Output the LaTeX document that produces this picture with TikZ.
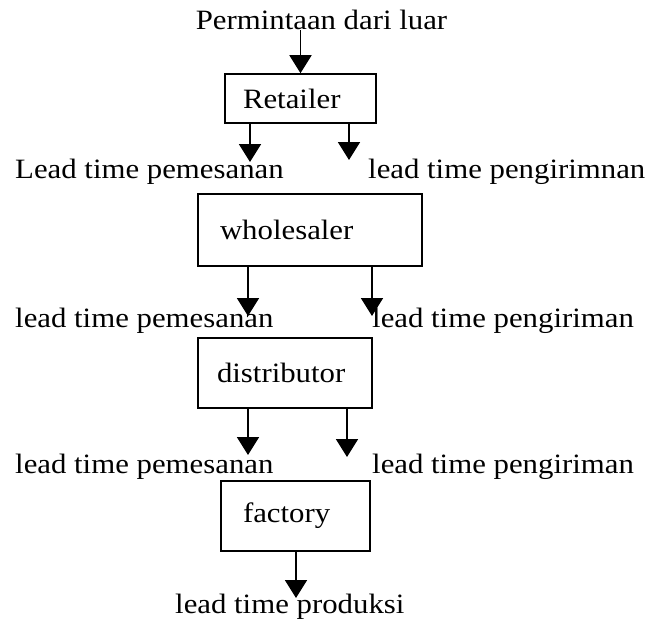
\documentclass[tikz,border=0pt]{standalone}
\usepackage{fontspec}
\setmainfont[FakeStretch=1.1]{Liberation Serif}
\usetikzlibrary{arrows.meta}
\begin{document}
\begin{tikzpicture}[x=1pt,y=-1pt,
  font=\fontsize{28}{32}\selectfont,
  box/.style={draw, line width=1.6pt, inner ysep=0pt, align=left},
  lbl/.style={inner sep=0pt, anchor=base west},
  arr/.style={line width=1.8pt, -{Triangle[width=22pt,length=18pt]}}]
\useasboundingbox (0,0) rectangle (651,629);

% incoming demand
\node[inner sep=0pt, anchor=base] (dem) at (321.5,30) {Permintaan dari luar};

% retailer
\node[box, minimum width=151pt, minimum height=49pt, text width=115pt, inner xsep=18pt] (ret) at (300.5,98.5) {Retailer};
\coordinate (r1) at (250,162);
\coordinate (r2) at (349,160);
\node[lbl] (l1a) at (15,178) {Lead time pemesanan};
\node[lbl] (l1b) at (368,178) {lead time pengirimnan};

% wholesaler
\node[box, minimum width=224pt, minimum height=72pt, text width=180pt, inner xsep=22pt] (who) at (310,230) {wholesaler};
\coordinate (w1) at (248,316);
\coordinate (w2) at (372,316);
\node[lbl] (l2a) at (15,327) {lead time pemesanan};
\node[lbl] (l2b) at (372,327) {lead time pengiriman};

% distributor
\node[box, minimum width=174pt, minimum height=70pt, text width=136pt, inner xsep=19pt] (dis) at (285,373) {distributor};
\coordinate (d1) at (248,455);
\coordinate (d2) at (347,457);
\node[lbl] (l3a) at (15,473) {lead time pemesanan};
\node[lbl] (l3b) at (372,473) {lead time pengiriman};

% factory
\node[box, minimum width=149pt, minimum height=70pt, text width=105pt, inner xsep=22pt] (fac) at (295.5,516) {factory};
\coordinate (f1) at (296,598);
\node[lbl] (l4) at (175,613) {lead time produksi};

% connectors
\draw[arr] (dem.base -| ret.north) -- (ret.north);
\draw[arr] (ret.south -| r1) -- (r1);
\draw[arr] (ret.south -| r2) -- (r2);
\draw[arr] (who.south -| w1) -- (w1);
\draw[arr] (who.south -| w2) -- (w2);
\draw[arr] (dis.south -| d1) -- (d1);
\draw[arr] (dis.south -| d2) -- (d2);
\draw[arr] (fac.south -| f1) -- (f1);
\end{tikzpicture}
\end{document}
